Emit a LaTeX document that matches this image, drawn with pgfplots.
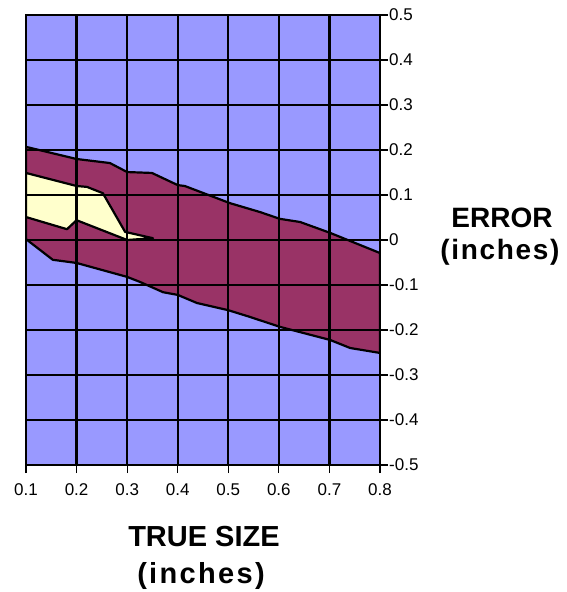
\documentclass[border=0pt]{standalone}
\usepackage{pgfplots}
\pgfplotsset{compat=1.18}
\usepackage{fontspec}
\setmainfont{Liberation Sans}
\definecolor{bgblue}{HTML}{9999FF}
\definecolor{maroon}{HTML}{993366}
\definecolor{paleyel}{HTML}{FFFFCC}
\begin{document}
\begin{tikzpicture}
\path[use as bounding box] (-26pt,-127pt) rectangle (540pt,465pt);
\begin{axis}[
  at={(0,0)}, anchor=south west,
  scale only axis, width=354pt, height=450pt,
  xmin=0.1, xmax=0.8, ymin=-0.5, ymax=0.5,
  xtick={0.1,0.2,0.3,0.4,0.5,0.6,0.7,0.8},
  xticklabels={0.1,0.2,0.3,0.4,0.5,0.6,0.7,0.8},
  ytick={-0.5,-0.4,-0.3,-0.2,-0.1,0,0.1,0.2,0.3,0.4,0.5},
  yticklabels={-0.5,-0.4,-0.3,-0.2,-0.1,0,0.1,0.2,0.3,0.4,0.5},
  ytick pos=right, yticklabel pos=right, xtick pos=bottom,
  tick align=outside, major tick length=8pt,
  tick style={black, line width=1.2pt},
  grid=major, grid style={black, line width=2.2pt},
  axis line style={black, line width=2.2pt},
  axis background/.style={fill=bgblue},
  axis on top,
  tick label style={font=\fontsize{17}{20}\selectfont},
  yticklabel style={inner sep=1pt},
  xticklabel style={yshift=-7pt},
  clip=true,
]
\addplot[fill=maroon, draw=black, line width=2.2pt, line join=round] coordinates {
 (0.1,0.207) (0.2,0.18) (0.266,0.171) (0.3,0.151) (0.349,0.149) (0.4,0.122)
 (0.414,0.12) (0.503,0.082) (0.563,0.062) (0.602,0.047) (0.642,0.04)
 (0.701,0.016) (0.8,-0.029)
 (0.8,-0.251) (0.741,-0.24) (0.701,-0.222) (0.602,-0.193) (0.543,-0.171)
 (0.5,-0.156) (0.438,-0.14) (0.4,-0.122) (0.371,-0.116) (0.325,-0.093)
 (0.3,-0.082) (0.2,-0.051) (0.153,-0.044) (0.1,0.002)
} -- cycle;
\addplot[fill=paleyel, draw=black, line width=2.2pt, line join=round] coordinates {
 (0.1,0.149) (0.2,0.12) (0.2206,0.118) (0.252,0.104) (0.296,0.018)
 (0.351,0.004) (0.3,0.0) (0.2,0.044) (0.181,0.024) (0.1,0.051)
} -- cycle;
\end{axis}
\node[anchor=base, font=\fontsize{29}{32}\selectfont\bfseries] at (178pt,-81pt) {TRUE SIZE};
\node[anchor=base, font=\fontsize{29}{32}\selectfont\bfseries] at (175pt,-118pt) {\addfontfeatures{LetterSpace=8}(inches)};
\node[anchor=base, font=\fontsize{28}{32}\selectfont\bfseries] at (476pt,237pt) {ERROR};
\node[anchor=base, font=\fontsize{28}{32}\selectfont\bfseries] at (474pt,205pt) {\addfontfeatures{LetterSpace=6}(inches)};
\end{tikzpicture}
\end{document}
